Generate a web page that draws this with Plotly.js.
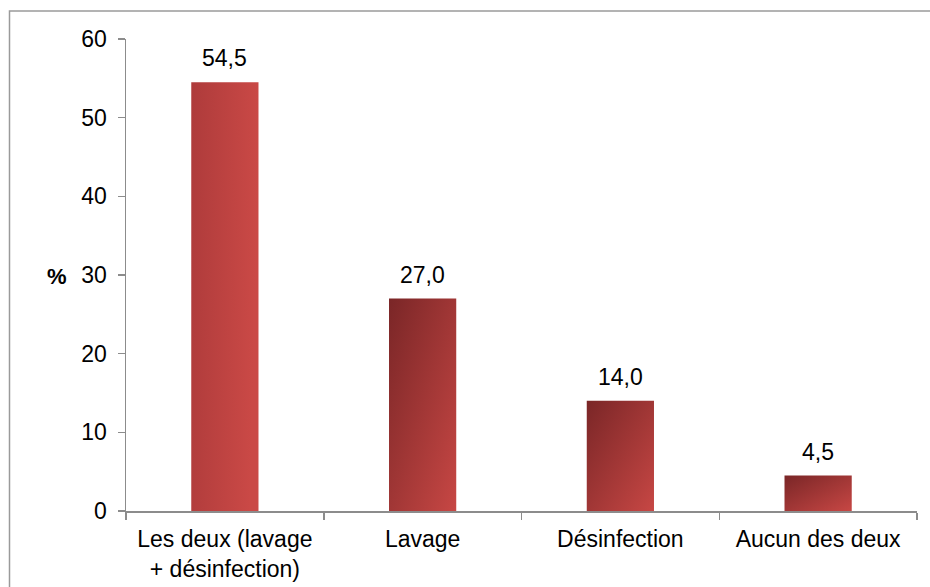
<!DOCTYPE html>
<html>
<head>
<meta charset="utf-8">
<script src="https://cdn.plot.ly/plotly-3.0.1.min.js"></script>
<style>
  html, body { margin: 0; padding: 0; background: #fff; }
  #chart { width: 930px; height: 587px; }
</style>
</head>
<body>
<div id="chart"></div>
<script>
const categories = ["Les deux (lavage<br>+ désinfection)", "Lavage", "Désinfection", "Aucun des deux"];
const values = [54.5, 27.0, 14.0, 4.5];
const yTicks = [0, 10, 20, 30, 40, 50, 60];
const yAxisLabel = "%";

const W = 930, H = 587;
const L = 126, R = 13, T = 39, B = 76;
const pw = W - L - R, ph = H - T - B;
const px = v => (v - L) / pw;       // pixel x -> paper x
const py = v => (H - B - v) / ph;   // pixel y -> paper y
const FONT = "Liberation Sans, Arial, sans-serif";
const FS = 23;

const trace = {
  type: "bar",
  x: categories,
  y: values,
  marker: { color: "#b03c3a", line: { width: 0 } },
  hoverinfo: "none"
};

const valueLabels = categories.map((c, i) => ({
  x: c, y: values[i],
  xref: "x", yref: "y",
  text: values[i].toFixed(1).replace(".", ","),
  showarrow: false,
  yanchor: "bottom",
  yshift: 9,
  font: { family: FONT, size: FS, color: "#000" }
}));

const layout = {
  width: W, height: H,
  margin: { l: L, r: R, t: T, b: B, pad: 0 },
  paper_bgcolor: "#fff",
  plot_bgcolor: "#fff",
  separators: ", ",
  bargap: 0.66,
  showlegend: false,
  font: { family: FONT, size: FS, color: "#000" },
  xaxis: {
    type: "category",
    showgrid: false,
    zeroline: false,
    showline: true,
    linecolor: "#8c8c8c",
    linewidth: 1.5,
    ticks: "outside",
    tickson: "boundaries",
    ticklen: 7,
    tickcolor: "#8c8c8c",
    tickwidth: 1.5,
    ticklabelstandoff: 7,
    tickfont: { family: FONT, size: FS, color: "#000" },
    fixedrange: true
  },
  yaxis: {
    range: [0, 60],
    tickvals: yTicks,
    showgrid: false,
    zeroline: false,
    showline: true,
    linecolor: "#8c8c8c",
    linewidth: 1.5,
    ticks: "outside",
    ticklen: 7,
    tickcolor: "#8c8c8c",
    tickwidth: 1.5,
    ticklabelstandoff: 6,
    tickfont: { family: FONT, size: FS, color: "#000" },
    fixedrange: true
  },
  annotations: [{
    text: "<b>" + yAxisLabel + "</b>",
    xref: "paper", yref: "paper",
    x: px(57), y: py(276),
    xanchor: "center", yanchor: "middle",
    showarrow: false,
    font: { family: FONT, size: 22, color: "#000" }
  }].concat(valueLabels),
  shapes: [{
    type: "rect",
    xref: "paper", yref: "paper",
    x0: px(9.5), x1: px(940), y0: py(11), y1: py(600),
    line: { color: "#9a9a9a", width: 1.5 },
    fillcolor: "rgba(0,0,0,0)",
    layer: "below"
  }]
};

Plotly.newPlot("chart", [trace], layout, { displayModeBar: false, staticPlot: true }).then(gd => {
  const svg = gd.querySelector("svg.main-svg");
  const ns = "http://www.w3.org/2000/svg";
  const defs = document.createElementNS(ns, "defs");
  function grad(id, x2, y2, c1, c2) {
    const g = document.createElementNS(ns, "linearGradient");
    g.setAttribute("id", id);
    g.setAttribute("x1", "0"); g.setAttribute("y1", "0");
    g.setAttribute("x2", x2); g.setAttribute("y2", y2);
    const s1 = document.createElementNS(ns, "stop");
    s1.setAttribute("offset", "0"); s1.setAttribute("stop-color", c1);
    const s2 = document.createElementNS(ns, "stop");
    s2.setAttribute("offset", "1"); s2.setAttribute("stop-color", c2);
    g.appendChild(s1); g.appendChild(s2);
    defs.appendChild(g);
  }
  grad("gTall", "1", "0.15", "#ae3b3b", "#ca4946");
  grad("gDiag", "1", "1", "#7a2627", "#c74744");
  svg.insertBefore(defs, svg.firstChild);
  const paths = gd.querySelectorAll(".barlayer .point path");
  paths.forEach((p, i) => {
    p.style.fill = i === 0 ? "url(#gTall)" : "url(#gDiag)";
  });
});
</script>
</body>
</html>
